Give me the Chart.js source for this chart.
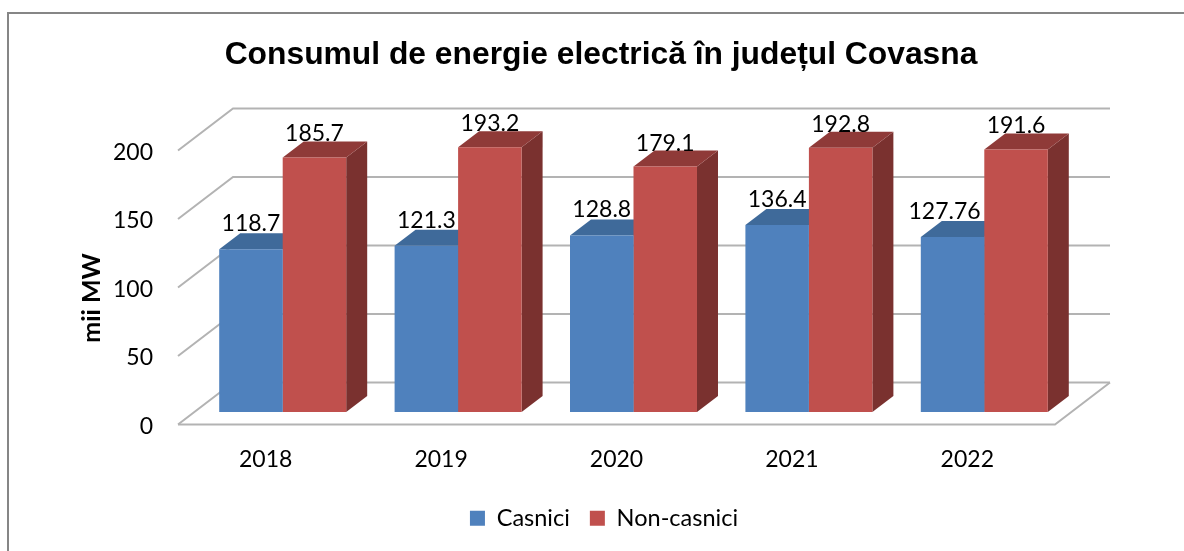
<!DOCTYPE html>
<html><head><meta charset="utf-8">
<style>html,body{margin:0;padding:0;background:#fff}canvas{display:block}</style>
<script src="https://cdn.jsdelivr.net/npm/chart.js@4"></script>
</head><body><canvas id="c" width="1184" height="551"></canvas>
<script>
const categories = ["2018","2019","2020","2021","2022"];
const casnici = [118.7,121.3,128.8,136.4,127.76];
const nonCasnici = [185.7,193.2,179.1,192.8,191.6];
const titleText = "Consumul de energie electrică în județul Covasna";
const yAxisText = "mii MW";
const yTicks = [0,50,100,150,200];

const WALL_DX=55, WALL_DY=42, BAR_DX=21, BAR_DY=16, SHIFT_X=17, SHIFT_Y=12.5;
const GRID="#b3b3b3", FRAME="#868686";
const FACE=[{top:"#3f6a9a",side:"#355a84"},{top:"#8f3a38",side:"#7a312f"}];
const FONT='Lato, "Open Sans", sans-serif';

function poly(ctx,pts,fill){ctx.beginPath();pts.forEach((p,i)=>i?ctx.lineTo(p[0],p[1]):ctx.moveTo(p[0],p[1]));ctx.closePath();ctx.fillStyle=fill;ctx.fill();}
function line(ctx,pts,col,w){ctx.beginPath();pts.forEach((p,i)=>i?ctx.lineTo(p[0],p[1]):ctx.moveTo(p[0],p[1]));ctx.strokeStyle=col;ctx.lineWidth=w;ctx.stroke();}

const bars3d={
  id:"bars3d",
  afterLayout(chart){ chart.legend.left+=3; chart.legend.right+=3; },
  beforeDraw(chart){
    const ctx=chart.ctx;
    line(ctx,[[8,551],[8,13],[1184,13]],FRAME,2);
    ctx.save();ctx.translate(92,298);ctx.rotate(-Math.PI/2);
    ctx.font='bold 25px '+FONT;ctx.fillStyle="#000";ctx.textAlign="center";ctx.textBaseline="middle";
    ctx.fillText(yAxisText,0,0);ctx.restore();
  },
  beforeDatasetsDraw(chart){
    const ctx=chart.ctx,{left,right}=chart.chartArea,y=chart.scales.y;
    yTicks.forEach(t=>{
      const py=y.getPixelForValue(t);
      line(ctx,[[left,py],[left+WALL_DX,py-WALL_DY],[right+WALL_DX,py-WALL_DY]],GRID,2);
    });
    const y0=y.getPixelForValue(0);
    line(ctx,[[left,y0],[right,y0],[right+WALL_DX,y0-WALL_DY]],GRID,2);
    ctx.save();ctx.translate(SHIFT_X,-SHIFT_Y);
    chart.data.datasets.forEach((d,di)=>{
      chart.getDatasetMeta(di).data.forEach(b=>{
        const l=b.x-b.width/2,r=b.x+b.width/2,t=b.y,base=b.base;
        poly(ctx,[[r,t],[r+BAR_DX,t-BAR_DY],[r+BAR_DX,base-BAR_DY],[r,base]],FACE[di].side);
        poly(ctx,[[l,t],[l+BAR_DX,t-BAR_DY],[r+BAR_DX,t-BAR_DY],[r,t]],FACE[di].top);
      });
    });
  },
  afterDatasetsDraw(chart){
    const ctx=chart.ctx;
    ctx.font='23px '+FONT;ctx.fillStyle="#000";ctx.textAlign="center";ctx.textBaseline="middle";
    chart.data.datasets.forEach((d,di)=>{
      chart.getDatasetMeta(di).data.forEach((b,i)=>{
        const s=String(d.data[i]);
        ctx.fillText(s,b.x-(s.length>5?8:0),b.y-(di?23.5:25.5));
      });
    });
    ctx.restore();
  }
};

new Chart(document.getElementById("c"),{
  type:"bar",
  data:{labels:categories,datasets:[
    {label:"Casnici",data:casnici,backgroundColor:"#4f81bd",clip:false},
    {label:"Non-casnici",data:nonCasnici,backgroundColor:"#c0504d",clip:false}
  ]},
  plugins:[bars3d],
  options:{
    responsive:false,animation:false,
    layout:{padding:{left:60,right:42,top:0,bottom:11}},
    datasets:{bar:{barPercentage:1,categoryPercentage:0.724}},
    plugins:{
      title:{display:true,text:titleText,color:"#000",font:{family:'"Liberation Sans"',size:31.8,weight:"bold"},padding:{top:36,bottom:33.8}},
      legend:{position:"bottom",labels:{color:"#000",font:{family:FONT,size:23.5},boxWidth:15,boxHeight:15,padding:20}},
      tooltip:{enabled:false}
    },
    scales:{
      x:{grid:{display:false,drawTicks:false},border:{display:false},
         ticks:{color:"#000",font:{family:FONT,size:23},padding:21.5,maxRotation:0},
         afterFit(s){s.height=62;}},
      y:{min:0,max:231,grid:{display:false,drawTicks:false},border:{display:false},
         ticks:{color:"#000",font:{family:FONT,size:23},padding:25,stepSize:50,includeBounds:false,labelOffset:2},
         afterFit(s){s.width=118;}},
      spacer:{position:"right",min:0,max:1,grid:{display:false,drawTicks:false},border:{display:false},
         ticks:{display:false},afterFit(s){s.width=87;}}
    }
  }
});
</script></body></html>
